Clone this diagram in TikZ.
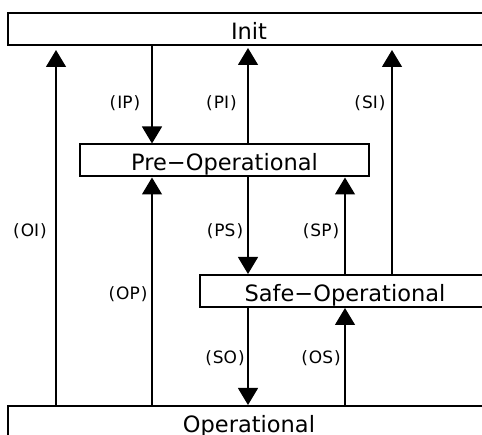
\documentclass[tikz,border=0pt]{standalone}
\usepackage{fontspec}
\setmainfont{DejaVu Sans}
\usetikzlibrary{arrows.meta}
\begin{document}
\begin{tikzpicture}[x=1pt,y=-1pt,
  state/.style={draw,line width=2pt,inner sep=0pt,minimum height=32pt,
    text height=21pt,text depth=0pt,font=\fontsize{22.5}{24}\selectfont},
  trans/.style={line width=1.2pt,-{Triangle[width=20pt,length=17pt]}},
  lbl/.style={font=\fontsize{17}{19}\selectfont,inner sep=0pt}]
\useasboundingbox (0,0) rectangle (482,435);
\clip (0,0) rectangle (482,435);
\node[state,minimum width=482pt] (init) at (249,29) {Init};
\node[state,minimum width=289pt] (pre)  at (224.5,160.5) {Pre−Operational};
\node[state,minimum width=290pt] (safe) at (345,291) {Safe−Operational};
\node[state,minimum width=482pt] (oper) at (249,422) {Operational};
\coordinate (xA) at (56,0);
\coordinate (xB) at (152,0);
\coordinate (xC) at (248,0);
\coordinate (xD) at (345,0);
\coordinate (xE) at (392,0);
% transitions
\draw[trans,shorten >=4pt] (oper.north -| xA) -- (init.south -| xA);
\draw[trans] (init.south -| xB) -- (pre.north -| xB);
\draw[trans,shorten >=2pt] (pre.north -| xC) -- (init.south -| xC);
\draw[trans,shorten >=4pt] (safe.north -| xE) -- (init.south -| xE);
\draw[trans] (oper.north -| xB) -- (pre.south -| xB);
\draw[trans] (pre.south -| xC) -- (safe.north -| xC);
\draw[trans] (safe.north -| xD) -- (pre.south -| xD);
\draw[trans] (safe.south -| xC) -- (oper.north -| xC);
\draw[trans] (oper.north -| xD) -- (safe.south -| xD);
% labels
\node[lbl] (lIP) at (125,103) {(\kern1pt IP\kern1pt)};
\node[lbl] (lPI) at (221.5,103) {(\kern1pt PI\kern1pt)};
\node[lbl] (lSI) at (370,103) {(\kern1pt SI\kern1pt)};
\node[lbl] (lOI) at (30,231.5) {(\kern1pt OI\kern1pt)};
\node[lbl] (lPS) at (225,231.5) {(\kern1pt PS\kern1pt)};
\node[lbl] (lSP) at (321,231.5) {(\kern1pt SP\kern1pt)};
\node[lbl] (lOP) at (128,294.5) {(\kern1pt OP\kern1pt)};
\node[lbl] (lSO) at (225,358.5) {(\kern1pt SO\kern1pt)};
\node[lbl] (lOS) at (321,358.5) {(\kern1pt OS\kern1pt)};
\end{tikzpicture}
\end{document}
